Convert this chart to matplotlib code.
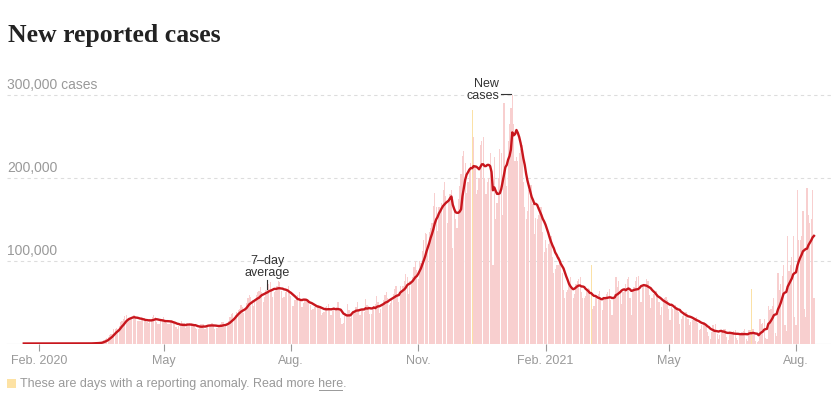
import numpy as np
import pandas as pd
import matplotlib
matplotlib.use("Agg")
import matplotlib.pyplot as plt
import matplotlib.dates as mdates
from matplotlib.lines import Line2D

# daily new reported cases (thousands), one row per week, Tue..Mon, from 2020-01-21
start_date = "2020-01-21"

cases_2020_early = [
    0, 0, 0, 0, 0, 0, 0,
    0, 0, 0, 0, 0, 0, 0,
    0, 0, 0, 0, 0, 0, 0,
    0, 0, 0, 0, 0, 0, 0,
    0, 0, 0, 0, 0, 0, 0,
    0, 0, 0, 0.01, 0.01, 0.01, 0.02,
    0.02, 0.03, 0.05, 0.08, 0.1, 0.1, 0.2,
    0.3, 0.4, 0.5, 0.6, 0.7, 0.8, 1.0,
    1.7, 2.5, 4.5, 5.5, 6.5, 8, 10,
]
cases_2020_spring = [
    11, 12, 17, 18, 19, 17, 21,
    26, 27, 29, 33, 34, 28, 30,
    31, 31, 34, 34, 31, 27, 27,
    27, 30, 30, 31, 27, 26, 25,
    27, 29, 32, 34, 32, 26, 23,
    24, 27, 30, 32, 28, 25, 23,
    23, 26, 28, 27, 25, 20, 18,
    21, 21, 27, 25, 25, 19, 22,
    21, 22, 25, 24, 22, 19, 17,
    17, 20, 23, 24, 24, 18, 20,
    21, 22, 23, 25, 23, 18, 19,
    19, 21, 24, 26, 26, 20, 21,
]
cases_2020_summer = [
    24, 27, 32, 36, 37, 30, 35,
    38, 40, 42, 47, 44, 37, 42,
    49, 55, 58, 56, 52, 45, 50,
    58, 62, 64, 68, 62, 50, 56,
    65, 67, 72, 74, 66, 56, 62,
    64, 70, 75, 74, 64, 55, 56,
    62, 66, 69, 64, 57, 45, 45,
    52, 54, 58, 62, 52, 44, 49,
    52, 53, 52, 50, 46, 40, 42,
    44, 46, 46, 47, 43, 35, 37,
    38, 44, 45, 48, 43, 34, 39,
]
cases_2020_fall = [
    42, 40, 44, 50, 40, 31, 23,
    25, 34, 36, 48, 41, 31, 36,
    39, 38, 44, 50, 42, 35, 39,
    40, 38, 54, 47, 45, 36, 36,
    42, 45, 48, 57, 50, 37, 42,
    48, 52, 58, 62, 55, 47, 49,
    54, 60, 66, 70, 60, 50, 70,
    63, 70, 75, 84, 80, 60, 75,
    74, 80, 92, 100, 89, 78, 100,
    97, 112, 125, 134, 132, 115, 135,
    140, 146, 166, 182, 165, 136, 165,
    160, 170, 185, 195, 178, 145, 175,
    180, 185, 115, 160, 150, 140, 175,
]
cases_2020_winter = [
    190, 205, 226, 232, 218, 182, 195,
    212, 218, 225, 250, 215, 180, 185,
    200, 240, 245, 250, 200, 180, 195,
    200, 230, 195, 95, 225, 150, 170,
    200, 235, 230, 155, 290, 210, 190,
    245, 265, 285, 300, 265, 220, 225,
    220, 230, 235, 240, 195, 165, 150,
    160, 185, 192, 192, 168, 132, 152,
    150, 155, 165, 165, 135, 110, 125,
    115, 120, 125, 130, 105, 85, 90,
    95, 95, 105, 100, 85, 65, 55,
    62, 65, 72, 80, 70, 55, 60,
    72, 75, 78, 80, 62, 55, 55,
]
cases_2021_spring = [
    57, 66, 67, 66, 60, 42, 45,
    56, 58, 60, 63, 52, 40, 55,
    55, 60, 62, 66, 52, 35, 55,
    60, 80, 68, 75, 62, 48, 62,
    63, 72, 78, 80, 55, 35, 65,
    68, 75, 80, 82, 65, 50, 70,
    72, 72, 78, 75, 58, 43, 55,
    60, 62, 63, 60, 50, 35, 44,
    50, 55, 56, 52, 42, 28, 45,
    42, 45, 46, 44, 38, 24, 30,
    33, 37, 38, 38, 30, 22, 26,
    28, 30, 31, 32, 25, 16, 18,
    22, 26, 26, 24, 14, 9, 6,
]
cases_2021_summer = [
    14, 22, 18, 23, 12, 6, 10,
    16, 16, 18, 17, 8, 4, 12,
    14, 14, 15, 16, 7, 4, 10,
    13, 14, 15, 17, 6, 3, 16,
    16, 14, 18, 14, 3, 2, 3,
    30, 24, 25, 30, 7, 5, 45,
    40, 42, 45, 55, 13, 9, 85,
    65, 72, 82, 95, 22, 15, 130,
    88, 95, 105, 130, 32, 22, 185,
    125, 125, 130, 160, 42, 32, 188,
    155, 145, 150, 185, 55,
]

# reporting anomalies: value as reported (thousands)
anomaly_dates = ["2020-12-10", "2021-03-06", "2021-06-30"]
anomaly_values = [282, 95, 66]

tick_dates = ["2020-02-01", "2020-05-01", "2020-08-01", "2020-11-01",
              "2021-02-01", "2021-05-01", "2021-08-01"]
tick_labels = ["Feb. 2020", "May", "Aug.", "Nov.", "Feb. 2021", "May", "Aug."]

grid_values = [100000, 200000, 300000]
grid_labels = ["100,000", "200,000", "300,000 cases"]

cases = np.array(cases_2020_early + cases_2020_spring + cases_2020_summer
                 + cases_2020_fall + cases_2020_winter + cases_2021_spring
                 + cases_2021_summer) * 1000
dates = pd.date_range(start_date, periods=len(cases), freq="D")
avg = pd.Series(cases).rolling(7, min_periods=1).mean().values

anom = pd.to_datetime(anomaly_dates)
is_anom = dates.isin(anom)

# --- figure geometry (pixels) ---
W, H = 831, 398
y0_px, ytop_px = 343.5, 60
px_per_k = 0.828
px_per_day = 1.3839
fig = plt.figure(figsize=(W / 100, H / 100), dpi=100)
ax = fig.add_axes([0, (H - y0_px) / H, 1, (y0_px - ytop_px) / H])

d0 = mdates.date2num(pd.Timestamp("2020-02-01"))
ax.set_xlim(d0 - 39 / px_per_day, d0 + (W - 39) / px_per_day)
ax.set_ylim(0, (y0_px - ytop_px) / px_per_k * 1000)

xd = mdates.date2num(dates)
ax.bar(xd[~is_anom], cases[~is_anom], width=0.86, color="#f8cfcf",
       linewidth=0, zorder=2)
ax.bar(mdates.date2num(anom), np.array(anomaly_values) * 1000, width=0.86,
       color="#fbe1a6", linewidth=0, zorder=2)
ax.plot(xd, avg, color="#c8161d", lw=1.7, solid_joinstyle="round", zorder=4)

for v, lab in zip(grid_values, grid_labels):
    ax.axhline(v, xmin=7 / W, xmax=1, color="#dddddd", lw=0.8,
               dashes=(3, 3), zorder=1)
    ax.annotate(lab, xy=(7 / W, v), xycoords=("axes fraction", "data"),
                xytext=(0, 2), textcoords="offset points", ha="left",
                va="bottom", fontsize=10, color="#999999",
                family="Liberation Sans")
ax.axhline(0, xmin=7 / W, xmax=1, color="#cccccc", lw=0.8, zorder=1)

for s in ax.spines.values():
    s.set_visible(False)
ax.set_yticks([])
ax.set_xticks(mdates.date2num(pd.to_datetime(tick_dates)))
ax.set_xticklabels(tick_labels, family="Liberation Sans")
ax.tick_params(axis="x", length=5, width=0.8, color="#999999",
               labelcolor="#999999", labelsize=9, pad=3)

# annotations
t7 = mdates.date2num(pd.Timestamp("2020-07-15"))
ax.plot([t7, t7], [66000, 77000], color="#333333", lw=0.8, zorder=5)
ax.text(t7, 78500, "7\u2013day\naverage", ha="center", va="bottom",
        fontsize=9, color="#333333", linespacing=1.0,
        family="Liberation Sans")

n1 = mdates.date2num(pd.Timestamp("2020-12-30")) + 0.6
n2 = mdates.date2num(pd.Timestamp("2021-01-06")) + 0.8
ax.plot([n1, n2], [301000, 301000], color="#333333", lw=0.8, zorder=5)
ax.text(n1 - 1.2, 306000, "New\ncases", ha="right", va="center",
        multialignment="right", fontsize=9, color="#333333",
        linespacing=1.0, family="Liberation Sans")

# title
fig.text(8 / W, 1 - 42 / H, "New reported cases", fontsize=18.5,
         fontweight="bold", family="Liberation Serif", color="#222222",
         va="baseline", ha="left")

# footnote
fig.patches.append(plt.Rectangle((7 / W, 1 - 388 / H), 9 / W, 9.5 / H,
                                 transform=fig.transFigure,
                                 color="#fde2a4", linewidth=0))
note_kw = dict(fontsize=9, color="#999999", family="Liberation Sans",
               va="baseline", ha="left")
fy = 1 - 387.5 / H
t_full = fig.text(20.5 / W, fy,
                  "These are days with a reporting anomaly. Read more here.",
                  **note_kw)
r = fig.canvas.get_renderer()
w_full = t_full.get_window_extent(renderer=r).x1
tmp_tail = fig.text(0, 0, "here.", **note_kw)
tmp_dot = fig.text(0, 0, ".", **note_kw)
w_tail = tmp_tail.get_window_extent(renderer=r).width
w_dot = tmp_dot.get_window_extent(renderer=r).width
tmp_tail.remove()
tmp_dot.remove()
u0, u1 = w_full - w_tail + 0.5, w_full - w_dot - 1.5
uy = fy * H - 2
fig.lines.append(Line2D([u0 / W, u1 / W], [uy / H, uy / H],
                        transform=fig.transFigure, color="#999999", lw=0.7))

fig.savefig("out.png", dpi=100)
